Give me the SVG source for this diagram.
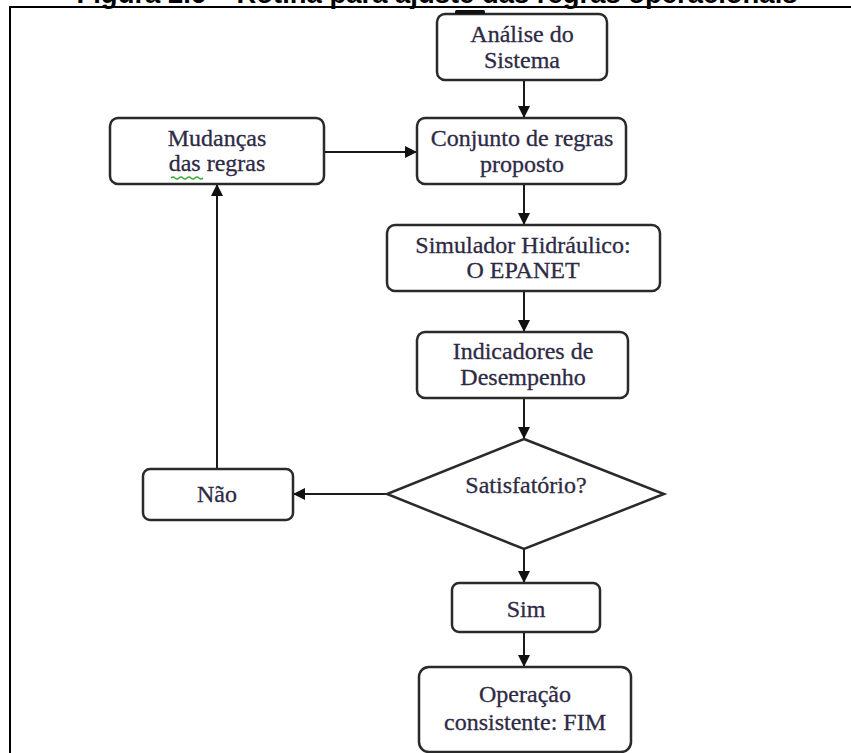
<svg xmlns="http://www.w3.org/2000/svg" width="851" height="753" viewBox="0 0 851 753">
<style>
.box{fill:#fff;stroke:#2a2a2a;stroke-width:2.5}
.t{font-family:'Liberation Serif','DejaVu Serif','Times New Roman',serif;font-size:24px;fill:#2e2a44;stroke:#2e2a44;stroke-width:0.3;text-anchor:middle}
.c{stroke:#1a1a1a;stroke-width:2;fill:none;marker-end:url(#ah)}
.frame{stroke:#000;stroke-width:2;fill:none}
</style>
<defs>
<marker id="ah" markerUnits="userSpaceOnUse" markerWidth="12" markerHeight="12" viewBox="0 0 12 12" refX="12" refY="6" orient="auto">
<path d="M0,0 L12,6 L0,12 z" fill="#111"/>
</marker>
</defs>
<rect width="851" height="753" fill="#fff"/>
<text x="437" y="2.5" font-family="'Liberation Sans',Arial,sans-serif" font-weight="bold" font-size="27" text-anchor="middle" textLength="721" lengthAdjust="spacingAndGlyphs" fill="#000">Figura 2.6 – Rotina para ajuste das regras operacionais</text>
<path class="frame" d="M10,753 L10,7 L851,7"/>
<g id="connectors">
<line class="c" x1="524" y1="80" x2="524" y2="118"/>
<line class="c" x1="324" y1="152" x2="417" y2="152"/>
<line class="c" x1="524" y1="184" x2="524" y2="225"/>
<line class="c" x1="524" y1="291" x2="524" y2="332"/>
<line class="c" x1="524" y1="398" x2="524" y2="439"/>
<line class="c" x1="387" y1="494" x2="293" y2="494"/>
<line class="c" x1="217" y1="469" x2="217" y2="184"/>
<line class="c" x1="524" y1="549" x2="524" y2="583"/>
<line class="c" x1="524" y1="632" x2="524" y2="667"/>
</g>
<g id="analise">
<rect class="box" x="437" y="14" width="170" height="66" rx="8"/>
<rect x="455" y="10" width="30" height="4" rx="1.5" fill="#111"/>
<text class="t" x="522" y="42">Análise do</text>
<text class="t" x="522" y="68">Sistema</text>
</g>
<g id="conjunto">
<rect class="box" x="417" y="118" width="209" height="66" rx="8"/>
<text class="t" x="522" y="146">Conjunto de regras</text>
<text class="t" x="522" y="172">proposto</text>
</g>
<g id="mudancas">
<rect class="box" x="110" y="118" width="214" height="66" rx="8"/>
<text class="t" x="217" y="146">Mudanças</text>
<text class="t" x="217" y="171">das regras</text>
<path d="M171,178 q2,-2 4,0 t4,0 t4,0 t4,0 t4,0 t4,0 t4,0 t4,0" stroke="#3a3" stroke-width="1.2" fill="none"/>
</g>
<g id="simulador">
<rect class="box" x="387" y="225" width="273" height="66" rx="8"/>
<text class="t" x="523" y="253">Simulador Hidráulico:</text>
<text class="t" x="523" y="278">O EPANET</text>
</g>
<g id="indicadores">
<rect class="box" x="417" y="332" width="211" height="66" rx="8"/>
<text class="t" x="523" y="359">Indicadores de</text>
<text class="t" x="523" y="385">Desempenho</text>
</g>
<g id="satisfatorio">
<polygon class="box" points="524,439 664,494 524,549 387,494"/>
<text class="t" x="526" y="493">Satisfatório?</text>
</g>
<g id="nao">
<rect class="box" x="143" y="469" width="150" height="51" rx="7"/>
<text class="t" x="217" y="502">Não</text>
</g>
<g id="sim">
<rect class="box" x="452" y="583" width="148" height="49" rx="7"/>
<text class="t" x="526" y="617">Sim</text>
</g>
<g id="operacao">
<rect class="box" x="419" y="667" width="212" height="85" rx="10"/>
<text class="t" x="525" y="702">Operação</text>
<text class="t" x="525" y="730">consistente: FIM</text>
</g>
</svg>
